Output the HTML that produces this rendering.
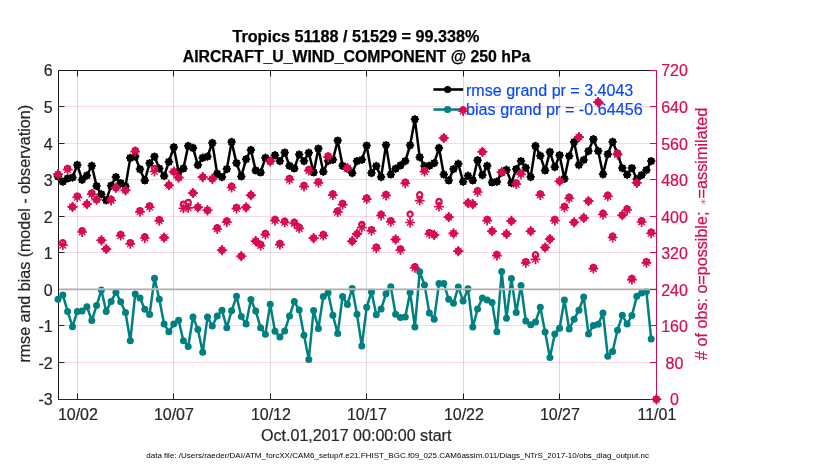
<!DOCTYPE html>
<html lang="en"><head><meta charset="utf-8"><title>Tropics AIRCRAFT_U_WIND_COMPONENT @ 250 hPa</title>
<style>html,body{margin:0;padding:0;background:#fff}body{width:830px;height:470px;overflow:hidden}svg{display:block}</style></head>
<body>
<svg width="830" height="470" viewBox="0 0 830 470" font-family="'Liberation Sans', Arial, Helvetica, sans-serif">
<rect width="830" height="470" fill="#fff"/>
<defs>
<g id="k"><circle r="3.6"/><path d="M-4.2,0H4.2M0,-4.2V4.2M-2.95,-2.95L2.95,2.95M-2.95,2.95L2.95,-2.95" stroke="#000" stroke-width="1.5" fill="none"/></g>
<g id="s" stroke="#d70a53" fill="none"><path d="M-4.9,0H4.9M0,-4.9V4.9" stroke-width="1.7"/><path d="M-3.3,-3.3L3.3,3.3M-3.3,3.3L3.3,-3.3" stroke-width="1.25"/><path d="M-2.6,0L0,-2.6L2.6,0L0,2.6Z" fill="#d70a53" stroke="none"/></g>
<g id="d" stroke="#d70a53" fill="none"><path d="M-5.1,0H5.1M0,-5.1V5.1" stroke-width="1.6"/><path d="M-3.3,-3.3L3.3,3.3M-3.3,3.3L3.3,-3.3" stroke-width="1.0"/><path d="M-4.6,0L0,-4.6L4.6,0L0,4.6Z" fill="#d70a53" stroke="none"/><circle r="2.62" stroke-width="2.2"/></g>
<circle id="c" r="2.62" stroke="#d70a53" stroke-width="2.2" fill="none"/>
</defs>
<g stroke="#000" stroke-opacity="0.14" stroke-width="1">
<line x1="77.5" y1="70.5" x2="77.5" y2="399.5"/>
<line x1="173.5" y1="70.5" x2="173.5" y2="399.5"/>
<line x1="270.5" y1="70.5" x2="270.5" y2="399.5"/>
<line x1="366.5" y1="70.5" x2="366.5" y2="399.5"/>
<line x1="463.5" y1="70.5" x2="463.5" y2="399.5"/>
<line x1="559.5" y1="70.5" x2="559.5" y2="399.5"/>
</g>
<g stroke="#1a1a1a" stroke-width="1" fill="none">
<path d="M58.5,400.0V70.5H656.5"/>
<line x1="58.5" y1="399.5" x2="64.5" y2="399.5"/>
<line x1="58.5" y1="362.5" x2="64.5" y2="362.5"/>
<line x1="58.5" y1="325.5" x2="64.5" y2="325.5"/>
<line x1="58.5" y1="289.5" x2="64.5" y2="289.5"/>
<line x1="58.5" y1="252.5" x2="64.5" y2="252.5"/>
<line x1="58.5" y1="216.5" x2="64.5" y2="216.5"/>
<line x1="58.5" y1="179.5" x2="64.5" y2="179.5"/>
<line x1="58.5" y1="143.5" x2="64.5" y2="143.5"/>
<line x1="58.5" y1="106.5" x2="64.5" y2="106.5"/>
<line x1="58.5" y1="70.5" x2="64.5" y2="70.5"/>
<line x1="77.5" y1="70.5" x2="77.5" y2="76.5"/>
<line x1="77.5" y1="399.5" x2="77.5" y2="393.5"/>
<line x1="173.5" y1="70.5" x2="173.5" y2="76.5"/>
<line x1="173.5" y1="399.5" x2="173.5" y2="393.5"/>
<line x1="270.5" y1="70.5" x2="270.5" y2="76.5"/>
<line x1="270.5" y1="399.5" x2="270.5" y2="393.5"/>
<line x1="366.5" y1="70.5" x2="366.5" y2="76.5"/>
<line x1="366.5" y1="399.5" x2="366.5" y2="393.5"/>
<line x1="463.5" y1="70.5" x2="463.5" y2="76.5"/>
<line x1="463.5" y1="399.5" x2="463.5" y2="393.5"/>
<line x1="559.5" y1="70.5" x2="559.5" y2="76.5"/>
<line x1="559.5" y1="399.5" x2="559.5" y2="393.5"/>
</g>
<line x1="58.0" y1="399.5" x2="656.5" y2="399.5" stroke="#471728" stroke-width="1"/>
<polyline points="58.0,299.2 62.8,294.9 67.6,311.4 72.5,326.7 77.3,311.4 82.1,311.1 86.9,306.7 91.8,320.5 96.6,305.6 101.4,290.1 106.2,311.4 111.1,301.4 115.9,292.3 120.7,301.7 125.5,312.5 130.3,340.8 135.2,294.1 140.0,298.1 144.8,309.3 149.6,314.4 154.5,278.2 159.3,299.2 164.1,324.1 168.9,331.7 173.8,324.1 178.6,320.2 183.4,340.7 188.2,346.5 193.0,317.1 197.9,329.4 202.7,352.3 207.5,317.1 212.3,326.0 217.2,316.1 222.0,310.3 226.8,327.7 231.6,310.8 236.5,296.3 241.3,316.6 246.1,324.1 250.9,299.5 255.7,311.1 260.6,327.7 265.4,334.2 270.2,304.3 275.0,331.3 279.9,337.1 284.7,331.0 289.5,316.1 294.3,301.4 299.2,310.1 304.0,335.3 308.8,359.5 313.6,310.4 318.4,328.5 323.3,296.4 328.1,292.7 332.9,315.2 337.7,333.6 342.6,296.4 347.4,304.6 352.2,288.4 357.0,314.3 361.8,346.0 366.7,307.2 371.5,292.0 376.3,314.7 381.1,309.0 386.0,293.8 390.8,286.8 395.6,314.3 400.4,317.5 405.3,317.0 410.1,292.4 414.9,327.1 419.7,271.8 424.5,284.9 429.4,313.0 434.2,319.2 439.0,283.4 443.8,283.4 448.7,299.3 453.5,303.3 458.3,286.9 463.1,301.1 468.0,288.8 472.8,327.1 477.6,309.0 482.4,297.9 487.2,299.9 492.1,302.5 496.9,331.7 501.7,271.6 506.5,318.2 511.4,278.4 516.2,312.5 521.0,285.4 525.8,321.0 530.7,324.7 535.5,322.1 540.3,307.3 545.1,332.0 549.9,357.5 554.8,333.9 559.6,328.3 564.4,300.1 569.2,329.0 574.1,319.2 578.9,310.2 583.7,297.0 588.5,333.9 593.4,325.4 598.2,324.3 603.0,313.1 607.8,356.3 612.6,351.5 617.5,330.2 622.3,315.3 627.1,324.0 631.9,315.6 636.8,296.2 641.6,292.9 646.4,291.4 651.2,339.1" fill="none" stroke="#008080" stroke-width="2.5" stroke-linejoin="round"/>
<g fill="#008080">
<circle cx="58.0" cy="299.2" r="3.5"/>
<circle cx="62.8" cy="294.9" r="3.5"/>
<circle cx="67.6" cy="311.4" r="3.5"/>
<circle cx="72.5" cy="326.7" r="3.5"/>
<circle cx="77.3" cy="311.4" r="3.5"/>
<circle cx="82.1" cy="311.1" r="3.5"/>
<circle cx="86.9" cy="306.7" r="3.5"/>
<circle cx="91.8" cy="320.5" r="3.5"/>
<circle cx="96.6" cy="305.6" r="3.5"/>
<circle cx="101.4" cy="290.1" r="3.5"/>
<circle cx="106.2" cy="311.4" r="3.5"/>
<circle cx="111.1" cy="301.4" r="3.5"/>
<circle cx="115.9" cy="292.3" r="3.5"/>
<circle cx="120.7" cy="301.7" r="3.5"/>
<circle cx="125.5" cy="312.5" r="3.5"/>
<circle cx="130.3" cy="340.8" r="3.5"/>
<circle cx="135.2" cy="294.1" r="3.5"/>
<circle cx="140.0" cy="298.1" r="3.5"/>
<circle cx="144.8" cy="309.3" r="3.5"/>
<circle cx="149.6" cy="314.4" r="3.5"/>
<circle cx="154.5" cy="278.2" r="3.5"/>
<circle cx="159.3" cy="299.2" r="3.5"/>
<circle cx="164.1" cy="324.1" r="3.5"/>
<circle cx="168.9" cy="331.7" r="3.5"/>
<circle cx="173.8" cy="324.1" r="3.5"/>
<circle cx="178.6" cy="320.2" r="3.5"/>
<circle cx="183.4" cy="340.7" r="3.5"/>
<circle cx="188.2" cy="346.5" r="3.5"/>
<circle cx="193.0" cy="317.1" r="3.5"/>
<circle cx="197.9" cy="329.4" r="3.5"/>
<circle cx="202.7" cy="352.3" r="3.5"/>
<circle cx="207.5" cy="317.1" r="3.5"/>
<circle cx="212.3" cy="326.0" r="3.5"/>
<circle cx="217.2" cy="316.1" r="3.5"/>
<circle cx="222.0" cy="310.3" r="3.5"/>
<circle cx="226.8" cy="327.7" r="3.5"/>
<circle cx="231.6" cy="310.8" r="3.5"/>
<circle cx="236.5" cy="296.3" r="3.5"/>
<circle cx="241.3" cy="316.6" r="3.5"/>
<circle cx="246.1" cy="324.1" r="3.5"/>
<circle cx="250.9" cy="299.5" r="3.5"/>
<circle cx="255.7" cy="311.1" r="3.5"/>
<circle cx="260.6" cy="327.7" r="3.5"/>
<circle cx="265.4" cy="334.2" r="3.5"/>
<circle cx="270.2" cy="304.3" r="3.5"/>
<circle cx="275.0" cy="331.3" r="3.5"/>
<circle cx="279.9" cy="337.1" r="3.5"/>
<circle cx="284.7" cy="331.0" r="3.5"/>
<circle cx="289.5" cy="316.1" r="3.5"/>
<circle cx="294.3" cy="301.4" r="3.5"/>
<circle cx="299.2" cy="310.1" r="3.5"/>
<circle cx="304.0" cy="335.3" r="3.5"/>
<circle cx="308.8" cy="359.5" r="3.5"/>
<circle cx="313.6" cy="310.4" r="3.5"/>
<circle cx="318.4" cy="328.5" r="3.5"/>
<circle cx="323.3" cy="296.4" r="3.5"/>
<circle cx="328.1" cy="292.7" r="3.5"/>
<circle cx="332.9" cy="315.2" r="3.5"/>
<circle cx="337.7" cy="333.6" r="3.5"/>
<circle cx="342.6" cy="296.4" r="3.5"/>
<circle cx="347.4" cy="304.6" r="3.5"/>
<circle cx="352.2" cy="288.4" r="3.5"/>
<circle cx="357.0" cy="314.3" r="3.5"/>
<circle cx="361.8" cy="346.0" r="3.5"/>
<circle cx="366.7" cy="307.2" r="3.5"/>
<circle cx="371.5" cy="292.0" r="3.5"/>
<circle cx="376.3" cy="314.7" r="3.5"/>
<circle cx="381.1" cy="309.0" r="3.5"/>
<circle cx="386.0" cy="293.8" r="3.5"/>
<circle cx="390.8" cy="286.8" r="3.5"/>
<circle cx="395.6" cy="314.3" r="3.5"/>
<circle cx="400.4" cy="317.5" r="3.5"/>
<circle cx="405.3" cy="317.0" r="3.5"/>
<circle cx="410.1" cy="292.4" r="3.5"/>
<circle cx="414.9" cy="327.1" r="3.5"/>
<circle cx="419.7" cy="271.8" r="3.5"/>
<circle cx="424.5" cy="284.9" r="3.5"/>
<circle cx="429.4" cy="313.0" r="3.5"/>
<circle cx="434.2" cy="319.2" r="3.5"/>
<circle cx="439.0" cy="283.4" r="3.5"/>
<circle cx="443.8" cy="283.4" r="3.5"/>
<circle cx="448.7" cy="299.3" r="3.5"/>
<circle cx="453.5" cy="303.3" r="3.5"/>
<circle cx="458.3" cy="286.9" r="3.5"/>
<circle cx="463.1" cy="301.1" r="3.5"/>
<circle cx="468.0" cy="288.8" r="3.5"/>
<circle cx="472.8" cy="327.1" r="3.5"/>
<circle cx="477.6" cy="309.0" r="3.5"/>
<circle cx="482.4" cy="297.9" r="3.5"/>
<circle cx="487.2" cy="299.9" r="3.5"/>
<circle cx="492.1" cy="302.5" r="3.5"/>
<circle cx="496.9" cy="331.7" r="3.5"/>
<circle cx="501.7" cy="271.6" r="3.5"/>
<circle cx="506.5" cy="318.2" r="3.5"/>
<circle cx="511.4" cy="278.4" r="3.5"/>
<circle cx="516.2" cy="312.5" r="3.5"/>
<circle cx="521.0" cy="285.4" r="3.5"/>
<circle cx="525.8" cy="321.0" r="3.5"/>
<circle cx="530.7" cy="324.7" r="3.5"/>
<circle cx="535.5" cy="322.1" r="3.5"/>
<circle cx="540.3" cy="307.3" r="3.5"/>
<circle cx="545.1" cy="332.0" r="3.5"/>
<circle cx="549.9" cy="357.5" r="3.5"/>
<circle cx="554.8" cy="333.9" r="3.5"/>
<circle cx="559.6" cy="328.3" r="3.5"/>
<circle cx="564.4" cy="300.1" r="3.5"/>
<circle cx="569.2" cy="329.0" r="3.5"/>
<circle cx="574.1" cy="319.2" r="3.5"/>
<circle cx="578.9" cy="310.2" r="3.5"/>
<circle cx="583.7" cy="297.0" r="3.5"/>
<circle cx="588.5" cy="333.9" r="3.5"/>
<circle cx="593.4" cy="325.4" r="3.5"/>
<circle cx="598.2" cy="324.3" r="3.5"/>
<circle cx="603.0" cy="313.1" r="3.5"/>
<circle cx="607.8" cy="356.3" r="3.5"/>
<circle cx="612.6" cy="351.5" r="3.5"/>
<circle cx="617.5" cy="330.2" r="3.5"/>
<circle cx="622.3" cy="315.3" r="3.5"/>
<circle cx="627.1" cy="324.0" r="3.5"/>
<circle cx="631.9" cy="315.6" r="3.5"/>
<circle cx="636.8" cy="296.2" r="3.5"/>
<circle cx="641.6" cy="292.9" r="3.5"/>
<circle cx="646.4" cy="291.4" r="3.5"/>
<circle cx="651.2" cy="339.1" r="3.5"/>
</g>
<line x1="59.0" y1="289.2" x2="656.5" y2="289.2" stroke="#c8c8c8" stroke-width="2"/>
<polyline points="58.0,176.4 62.8,181.7 67.6,178.4 72.5,177.5 77.3,164.9 82.1,179.8 86.9,175.5 91.8,165.8 96.6,186.1 101.4,194.3 106.2,200.3 111.1,185.7 115.9,177.1 120.7,183.1 125.5,186.4 130.3,157.9 135.2,156.6 140.0,169.2 144.8,180.4 149.6,163.2 154.5,156.6 159.3,168.5 164.1,176.0 168.9,161.8 173.8,147.2 178.6,171.7 183.4,168.4 188.2,145.9 193.0,147.9 197.9,165.1 202.7,157.8 207.5,156.5 212.3,142.9 217.2,173.7 222.0,177.1 226.8,169.1 231.6,141.9 236.5,163.1 241.3,176.4 246.1,159.2 250.9,149.9 255.7,170.4 260.6,172.4 265.4,157.8 270.2,161.1 275.0,155.2 279.9,161.1 284.7,152.5 289.5,165.8 294.3,168.4 299.2,154.5 304.0,161.1 308.8,152.8 313.6,172.4 318.4,148.6 323.3,171.7 328.1,161.0 332.9,159.8 337.7,140.6 342.6,165.8 347.4,168.4 352.2,173.1 357.0,161.1 361.8,159.8 366.7,145.6 371.5,173.1 376.3,166.0 381.1,177.1 386.0,145.1 390.8,174.4 395.6,168.7 400.4,165.4 405.3,161.1 410.1,145.3 414.9,119.3 419.7,157.2 424.5,166.0 429.4,165.7 434.2,163.1 439.0,147.9 443.8,174.5 448.7,180.4 453.5,169.1 458.3,163.8 463.1,181.7 468.0,175.8 472.8,180.4 477.6,160.2 482.4,175.1 487.2,165.8 492.1,182.4 496.9,181.7 501.7,172.4 506.5,169.8 511.4,183.0 516.2,169.1 521.0,161.1 525.8,167.8 530.7,177.1 535.5,145.9 540.3,155.8 545.1,170.4 549.9,151.9 554.8,167.1 559.6,155.2 564.4,178.8 569.2,156.0 574.1,142.0 578.9,165.0 583.7,160.0 588.5,151.1 593.4,139.2 598.2,151.1 603.0,174.3 607.8,154.2 612.6,141.8 617.5,153.5 622.3,168.1 627.1,174.7 631.9,168.1 636.8,179.3 641.6,175.1 646.4,170.1 651.2,161.1" fill="none" stroke="#000" stroke-width="2.5" stroke-linejoin="round"/>
<use href="#k" x="58.0" y="176.4"/>
<use href="#k" x="62.8" y="181.7"/>
<use href="#k" x="67.6" y="178.4"/>
<use href="#k" x="72.5" y="177.5"/>
<use href="#k" x="77.3" y="164.9"/>
<use href="#k" x="82.1" y="179.8"/>
<use href="#k" x="86.9" y="175.5"/>
<use href="#k" x="91.8" y="165.8"/>
<use href="#k" x="96.6" y="186.1"/>
<use href="#k" x="101.4" y="194.3"/>
<use href="#k" x="106.2" y="200.3"/>
<use href="#k" x="111.1" y="185.7"/>
<use href="#k" x="115.9" y="177.1"/>
<use href="#k" x="120.7" y="183.1"/>
<use href="#k" x="125.5" y="186.4"/>
<use href="#k" x="130.3" y="157.9"/>
<use href="#k" x="135.2" y="156.6"/>
<use href="#k" x="140.0" y="169.2"/>
<use href="#k" x="144.8" y="180.4"/>
<use href="#k" x="149.6" y="163.2"/>
<use href="#k" x="154.5" y="156.6"/>
<use href="#k" x="159.3" y="168.5"/>
<use href="#k" x="164.1" y="176.0"/>
<use href="#k" x="168.9" y="161.8"/>
<use href="#k" x="173.8" y="147.2"/>
<use href="#k" x="178.6" y="171.7"/>
<use href="#k" x="183.4" y="168.4"/>
<use href="#k" x="188.2" y="145.9"/>
<use href="#k" x="193.0" y="147.9"/>
<use href="#k" x="197.9" y="165.1"/>
<use href="#k" x="202.7" y="157.8"/>
<use href="#k" x="207.5" y="156.5"/>
<use href="#k" x="212.3" y="142.9"/>
<use href="#k" x="217.2" y="173.7"/>
<use href="#k" x="222.0" y="177.1"/>
<use href="#k" x="226.8" y="169.1"/>
<use href="#k" x="231.6" y="141.9"/>
<use href="#k" x="236.5" y="163.1"/>
<use href="#k" x="241.3" y="176.4"/>
<use href="#k" x="246.1" y="159.2"/>
<use href="#k" x="250.9" y="149.9"/>
<use href="#k" x="255.7" y="170.4"/>
<use href="#k" x="260.6" y="172.4"/>
<use href="#k" x="265.4" y="157.8"/>
<use href="#k" x="270.2" y="161.1"/>
<use href="#k" x="275.0" y="155.2"/>
<use href="#k" x="279.9" y="161.1"/>
<use href="#k" x="284.7" y="152.5"/>
<use href="#k" x="289.5" y="165.8"/>
<use href="#k" x="294.3" y="168.4"/>
<use href="#k" x="299.2" y="154.5"/>
<use href="#k" x="304.0" y="161.1"/>
<use href="#k" x="308.8" y="152.8"/>
<use href="#k" x="313.6" y="172.4"/>
<use href="#k" x="318.4" y="148.6"/>
<use href="#k" x="323.3" y="171.7"/>
<use href="#k" x="328.1" y="161.0"/>
<use href="#k" x="332.9" y="159.8"/>
<use href="#k" x="337.7" y="140.6"/>
<use href="#k" x="342.6" y="165.8"/>
<use href="#k" x="347.4" y="168.4"/>
<use href="#k" x="352.2" y="173.1"/>
<use href="#k" x="357.0" y="161.1"/>
<use href="#k" x="361.8" y="159.8"/>
<use href="#k" x="366.7" y="145.6"/>
<use href="#k" x="371.5" y="173.1"/>
<use href="#k" x="376.3" y="166.0"/>
<use href="#k" x="381.1" y="177.1"/>
<use href="#k" x="386.0" y="145.1"/>
<use href="#k" x="390.8" y="174.4"/>
<use href="#k" x="395.6" y="168.7"/>
<use href="#k" x="400.4" y="165.4"/>
<use href="#k" x="405.3" y="161.1"/>
<use href="#k" x="410.1" y="145.3"/>
<use href="#k" x="414.9" y="119.3"/>
<use href="#k" x="419.7" y="157.2"/>
<use href="#k" x="424.5" y="166.0"/>
<use href="#k" x="429.4" y="165.7"/>
<use href="#k" x="434.2" y="163.1"/>
<use href="#k" x="439.0" y="147.9"/>
<use href="#k" x="443.8" y="174.5"/>
<use href="#k" x="448.7" y="180.4"/>
<use href="#k" x="453.5" y="169.1"/>
<use href="#k" x="458.3" y="163.8"/>
<use href="#k" x="463.1" y="181.7"/>
<use href="#k" x="468.0" y="175.8"/>
<use href="#k" x="472.8" y="180.4"/>
<use href="#k" x="477.6" y="160.2"/>
<use href="#k" x="482.4" y="175.1"/>
<use href="#k" x="487.2" y="165.8"/>
<use href="#k" x="492.1" y="182.4"/>
<use href="#k" x="496.9" y="181.7"/>
<use href="#k" x="501.7" y="172.4"/>
<use href="#k" x="506.5" y="169.8"/>
<use href="#k" x="511.4" y="183.0"/>
<use href="#k" x="516.2" y="169.1"/>
<use href="#k" x="521.0" y="161.1"/>
<use href="#k" x="525.8" y="167.8"/>
<use href="#k" x="530.7" y="177.1"/>
<use href="#k" x="535.5" y="145.9"/>
<use href="#k" x="540.3" y="155.8"/>
<use href="#k" x="545.1" y="170.4"/>
<use href="#k" x="549.9" y="151.9"/>
<use href="#k" x="554.8" y="167.1"/>
<use href="#k" x="559.6" y="155.2"/>
<use href="#k" x="564.4" y="178.8"/>
<use href="#k" x="569.2" y="156.0"/>
<use href="#k" x="574.1" y="142.0"/>
<use href="#k" x="578.9" y="165.0"/>
<use href="#k" x="583.7" y="160.0"/>
<use href="#k" x="588.5" y="151.1"/>
<use href="#k" x="593.4" y="139.2"/>
<use href="#k" x="598.2" y="151.1"/>
<use href="#k" x="603.0" y="174.3"/>
<use href="#k" x="607.8" y="154.2"/>
<use href="#k" x="612.6" y="141.8"/>
<use href="#k" x="617.5" y="153.5"/>
<use href="#k" x="622.3" y="168.1"/>
<use href="#k" x="627.1" y="174.7"/>
<use href="#k" x="631.9" y="168.1"/>
<use href="#k" x="636.8" y="179.3"/>
<use href="#k" x="641.6" y="175.1"/>
<use href="#k" x="646.4" y="170.1"/>
<use href="#k" x="651.2" y="161.1"/>
<g stroke="#d70a53" stroke-opacity="0.16" stroke-width="1">
<line x1="59.0" y1="362.5" x2="656.5" y2="362.5"/>
<line x1="59.0" y1="325.5" x2="656.5" y2="325.5"/>
<line x1="59.0" y1="289.5" x2="656.5" y2="289.5"/>
<line x1="59.0" y1="252.5" x2="656.5" y2="252.5"/>
<line x1="59.0" y1="216.5" x2="656.5" y2="216.5"/>
<line x1="59.0" y1="179.5" x2="656.5" y2="179.5"/>
<line x1="59.0" y1="143.5" x2="656.5" y2="143.5"/>
<line x1="59.0" y1="106.5" x2="656.5" y2="106.5"/>
<line x1="59.0" y1="289.7" x2="656.5" y2="289.7" stroke-opacity="0.1"/>
</g>
<g stroke="#d70a53" stroke-width="1">
<line x1="656.5" y1="70.0" x2="656.5" y2="400.0"/>
<line x1="656.5" y1="399.5" x2="650.0" y2="399.5"/>
<line x1="656.5" y1="362.5" x2="650.0" y2="362.5"/>
<line x1="656.5" y1="325.5" x2="650.0" y2="325.5"/>
<line x1="656.5" y1="289.5" x2="650.0" y2="289.5"/>
<line x1="656.5" y1="252.5" x2="650.0" y2="252.5"/>
<line x1="656.5" y1="216.5" x2="650.0" y2="216.5"/>
<line x1="656.5" y1="179.5" x2="650.0" y2="179.5"/>
<line x1="656.5" y1="143.5" x2="650.0" y2="143.5"/>
<line x1="656.5" y1="106.5" x2="650.0" y2="106.5"/>
<line x1="656.5" y1="70.5" x2="650.0" y2="70.5"/>
</g>
<line x1="433.4" y1="89.5" x2="463.2" y2="89.5" stroke="#000" stroke-width="2.6"/><circle cx="447.6" cy="89.5" r="3.6"/>
<line x1="433.4" y1="109.5" x2="463.2" y2="109.5" stroke="#008080" stroke-width="2.6"/><circle cx="447.6" cy="109.5" r="3.6" fill="#008080"/>
<g font-size="16" fill="#0546ff" stroke="#0546ff" stroke-width="0.15">
<text x="466" y="96.2" textLength="167.3" lengthAdjust="spacingAndGlyphs">rmse grand pr = 3.4043</text>
<text x="466" y="114.9" textLength="176.7" lengthAdjust="spacingAndGlyphs">bias grand pr = -0.64456</text>
</g>
<use href="#d" x="58.0" y="174.4"/>
<use href="#c" x="62.8" y="242.6"/><use href="#s" x="62.8" y="245.2"/>
<use href="#c" x="67.6" y="168.5"/><use href="#s" x="67.6" y="169.7"/>
<use href="#d" x="72.5" y="206.9"/>
<use href="#c" x="77.3" y="196.1"/><use href="#s" x="77.3" y="197.3"/>
<use href="#c" x="82.1" y="230.8"/><use href="#s" x="82.1" y="232.0"/>
<use href="#d" x="86.9" y="204.2"/>
<use href="#c" x="91.8" y="193.0"/><use href="#s" x="91.8" y="194.2"/>
<use href="#d" x="96.6" y="199.7"/>
<use href="#d" x="101.4" y="240.3"/>
<use href="#d" x="106.2" y="249.0"/>
<use href="#c" x="111.1" y="199.3"/><use href="#s" x="111.1" y="200.5"/>
<use href="#d" x="115.9" y="187.9"/>
<use href="#c" x="120.7" y="234.5"/><use href="#s" x="120.7" y="235.7"/>
<use href="#d" x="125.5" y="190.3"/>
<use href="#c" x="130.3" y="242.6"/><use href="#s" x="130.3" y="243.8"/>
<use href="#c" x="135.2" y="150.5"/><use href="#s" x="135.2" y="151.7"/>
<use href="#c" x="140.0" y="210.6"/><use href="#s" x="140.0" y="211.8"/>
<use href="#c" x="144.8" y="236.8"/><use href="#s" x="144.8" y="238.0"/>
<use href="#c" x="149.6" y="205.9"/><use href="#s" x="149.6" y="207.1"/>
<use href="#c" x="154.5" y="168.5"/><use href="#s" x="154.5" y="171.5"/>
<use href="#c" x="159.3" y="219.6"/><use href="#s" x="159.3" y="220.8"/>
<use href="#d" x="164.1" y="237.6"/>
<use href="#d" x="168.9" y="185.2"/>
<use href="#d" x="173.8" y="171.7"/>
<use href="#d" x="178.6" y="177.6"/>
<use href="#c" x="183.4" y="204.2"/><use href="#s" x="183.4" y="208.4"/>
<use href="#c" x="188.2" y="202.4"/><use href="#s" x="188.2" y="207.8"/>
<use href="#d" x="193.0" y="193.0"/>
<use href="#d" x="197.9" y="207.3"/>
<use href="#d" x="202.7" y="177.1"/>
<use href="#d" x="207.5" y="210.3"/>
<use href="#d" x="212.3" y="178.9"/>
<use href="#c" x="217.2" y="227.8"/><use href="#s" x="217.2" y="229.0"/>
<use href="#d" x="222.0" y="250.2"/>
<use href="#c" x="226.8" y="220.9"/><use href="#s" x="226.8" y="222.1"/>
<use href="#c" x="231.6" y="186.3"/><use href="#s" x="231.6" y="187.5"/>
<use href="#c" x="236.5" y="207.4"/><use href="#s" x="236.5" y="208.6"/>
<use href="#d" x="241.3" y="256.2"/>
<use href="#d" x="246.1" y="207.3"/>
<use href="#d" x="250.9" y="195.2"/>
<use href="#d" x="255.7" y="241.2"/>
<use href="#c" x="260.6" y="244.4"/><use href="#s" x="260.6" y="245.6"/>
<use href="#c" x="265.4" y="233.5"/><use href="#s" x="265.4" y="234.7"/>
<use href="#d" x="270.2" y="161.3"/>
<use href="#c" x="275.0" y="219.4"/><use href="#s" x="275.0" y="220.6"/>
<use href="#c" x="279.9" y="243.5"/><use href="#s" x="279.9" y="244.7"/>
<use href="#c" x="284.7" y="221.2"/><use href="#s" x="284.7" y="222.4"/>
<use href="#c" x="289.5" y="178.5"/><use href="#s" x="289.5" y="179.7"/>
<use href="#c" x="294.3" y="222.3"/><use href="#s" x="294.3" y="223.5"/>
<use href="#c" x="299.2" y="227.2"/><use href="#s" x="299.2" y="228.4"/>
<use href="#c" x="304.0" y="185.4"/><use href="#s" x="304.0" y="186.6"/>
<use href="#c" x="308.8" y="169.5"/><use href="#s" x="308.8" y="170.7"/>
<use href="#d" x="313.6" y="238.1"/>
<use href="#c" x="318.4" y="181.6"/><use href="#s" x="318.4" y="182.8"/>
<use href="#c" x="323.3" y="234.5"/><use href="#s" x="323.3" y="235.7"/>
<use href="#c" x="328.1" y="155.9"/><use href="#s" x="328.1" y="157.1"/>
<use href="#c" x="332.9" y="193.9"/><use href="#s" x="332.9" y="195.1"/>
<use href="#c" x="337.7" y="211.0"/><use href="#s" x="337.7" y="212.2"/>
<use href="#c" x="342.6" y="203.5"/><use href="#s" x="342.6" y="204.7"/>
<use href="#d" x="347.4" y="168.0"/>
<use href="#d" x="352.2" y="241.2"/>
<use href="#d" x="357.0" y="233.9"/>
<use href="#c" x="361.8" y="224.5"/><use href="#s" x="361.8" y="227.6"/>
<use href="#c" x="366.7" y="198.0"/><use href="#s" x="366.7" y="199.2"/>
<use href="#c" x="371.5" y="229.6"/><use href="#s" x="371.5" y="230.8"/>
<use href="#c" x="376.3" y="247.1"/><use href="#s" x="376.3" y="248.3"/>
<use href="#c" x="381.1" y="214.3"/><use href="#s" x="381.1" y="215.5"/>
<use href="#c" x="386.0" y="194.4"/><use href="#s" x="386.0" y="195.6"/>
<use href="#c" x="390.8" y="220.6"/><use href="#s" x="390.8" y="221.8"/>
<use href="#d" x="395.6" y="239.4"/>
<use href="#c" x="400.4" y="248.9"/><use href="#s" x="400.4" y="250.1"/>
<use href="#c" x="405.3" y="182.1"/><use href="#s" x="405.3" y="183.3"/>
<use href="#c" x="410.1" y="214.2"/><use href="#s" x="410.1" y="222.5"/>
<use href="#c" x="414.9" y="266.7"/><use href="#s" x="414.9" y="267.9"/>
<use href="#c" x="419.7" y="194.8"/><use href="#s" x="419.7" y="200.6"/>
<use href="#c" x="424.5" y="170.4"/><use href="#s" x="424.5" y="171.6"/>
<use href="#c" x="429.4" y="232.6"/><use href="#s" x="429.4" y="233.8"/>
<use href="#d" x="434.2" y="234.9"/>
<use href="#c" x="439.0" y="201.5"/><use href="#s" x="439.0" y="206.7"/>
<use href="#d" x="443.8" y="138.0"/>
<use href="#d" x="448.7" y="217.1"/>
<use href="#d" x="453.5" y="233.4"/>
<use href="#d" x="458.3" y="251.1"/>
<use href="#c" x="463.1" y="109.9"/><use href="#s" x="463.1" y="111.1"/>
<use href="#d" x="468.0" y="203.0"/>
<use href="#d" x="472.8" y="204.2"/>
<use href="#c" x="477.6" y="190.8"/><use href="#s" x="477.6" y="192.0"/>
<use href="#d" x="482.4" y="151.8"/>
<use href="#c" x="487.2" y="219.4"/><use href="#s" x="487.2" y="220.6"/>
<use href="#d" x="492.1" y="231.2"/>
<use href="#c" x="496.9" y="254.4"/><use href="#s" x="496.9" y="255.6"/>
<use href="#d" x="501.7" y="172.2"/>
<use href="#d" x="506.5" y="233.9"/>
<use href="#d" x="511.4" y="220.9"/>
<use href="#c" x="516.2" y="183.0"/><use href="#s" x="516.2" y="184.2"/>
<use href="#c" x="521.0" y="173.1"/><use href="#s" x="521.0" y="174.3"/>
<use href="#c" x="525.8" y="261.6"/><use href="#s" x="525.8" y="262.8"/>
<use href="#d" x="530.7" y="231.2"/>
<use href="#c" x="535.5" y="254.8"/><use href="#s" x="535.5" y="259.3"/>
<use href="#c" x="540.3" y="193.9"/><use href="#s" x="540.3" y="195.1"/>
<use href="#d" x="545.1" y="247.5"/>
<use href="#d" x="549.9" y="239.0"/>
<use href="#c" x="554.8" y="219.4"/><use href="#s" x="554.8" y="220.6"/>
<use href="#d" x="559.6" y="181.2"/>
<use href="#c" x="564.4" y="206.4"/><use href="#s" x="564.4" y="207.6"/>
<use href="#c" x="569.2" y="197.2"/><use href="#s" x="569.2" y="198.4"/>
<use href="#d" x="574.1" y="222.3"/>
<use href="#d" x="578.9" y="137.1"/>
<use href="#d" x="583.7" y="217.9"/>
<use href="#d" x="588.5" y="201.1"/>
<use href="#c" x="593.4" y="267.5"/><use href="#s" x="593.4" y="268.7"/>
<use href="#d" x="598.2" y="102.1"/>
<use href="#c" x="603.0" y="213.3"/><use href="#s" x="603.0" y="214.5"/>
<use href="#c" x="607.8" y="195.2"/><use href="#s" x="607.8" y="196.4"/>
<use href="#c" x="612.6" y="236.3"/><use href="#s" x="612.6" y="237.5"/>
<use href="#c" x="617.5" y="153.4"/><use href="#s" x="617.5" y="154.6"/>
<use href="#d" x="622.3" y="215.2"/>
<use href="#c" x="627.1" y="208.8"/><use href="#s" x="627.1" y="210.0"/>
<use href="#c" x="631.9" y="278.5"/><use href="#s" x="631.9" y="279.7"/>
<use href="#d" x="636.8" y="182.8"/>
<use href="#c" x="641.6" y="220.8"/><use href="#s" x="641.6" y="222.0"/>
<use href="#c" x="646.4" y="261.6"/><use href="#s" x="646.4" y="262.8"/>
<use href="#c" x="651.2" y="232.1"/><use href="#s" x="651.2" y="233.3"/>
<use href="#d" x="656.4" y="399.3"/>
<g font-size="16" fill="#262626" stroke="#262626" stroke-width="0.2" text-anchor="end">
<text x="52.7" y="404.9">-3</text>
<text x="52.7" y="368.9">-2</text>
<text x="52.7" y="331.9">-1</text>
<text x="52.7" y="295.9">0</text>
<text x="52.7" y="258.9">1</text>
<text x="52.7" y="222.9">2</text>
<text x="52.7" y="185.9">3</text>
<text x="52.7" y="149.9">4</text>
<text x="52.7" y="112.9">5</text>
<text x="52.7" y="75.9">6</text>
</g>
<g font-size="16" fill="#262626" stroke="#262626" stroke-width="0.2" text-anchor="middle">
<text x="77.9" y="420">10/02</text>
<text x="173.9" y="420">10/07</text>
<text x="270.9" y="420">10/12</text>
<text x="366.9" y="420">10/17</text>
<text x="463.9" y="420">10/22</text>
<text x="559.9" y="420">10/27</text>
<text x="656.9" y="420">11/01</text>
</g>
<g font-size="16" fill="#d70a53" stroke="#d70a53" stroke-width="0.2" text-anchor="middle">
<text x="674.5" y="405.1">0</text>
<text x="674.5" y="368.9">80</text>
<text x="674.5" y="331.9">160</text>
<text x="674.5" y="295.9">240</text>
<text x="674.5" y="258.9">320</text>
<text x="674.5" y="222.9">400</text>
<text x="674.5" y="185.9">480</text>
<text x="674.5" y="149.9">560</text>
<text x="674.5" y="112.9">640</text>
<text x="674.5" y="75.9">720</text>
</g>
<g font-size="16" font-weight="bold" fill="#000" stroke="#000" stroke-width="0.25" text-anchor="middle">
<text x="355.9" y="42.2" textLength="246.9" lengthAdjust="spacingAndGlyphs">Tropics 51188 / 51529 = 99.338%</text>
<text x="356.5" y="62.3" textLength="347.5" lengthAdjust="spacingAndGlyphs">AIRCRAFT_U_WIND_COMPONENT @ 250 hPa</text>
</g>
<text x="356.2" y="440.5" font-size="16" fill="#262626" stroke="#262626" stroke-width="0.2" text-anchor="middle" textLength="190.4" lengthAdjust="spacingAndGlyphs">Oct.01,2017 00:00:00 start</text>
<text x="146.3" y="457.5" font-size="8" fill="#000" textLength="502.6" lengthAdjust="spacingAndGlyphs">data file: /Users/raeder/DAI/ATM_forcXX/CAM6_setup/f.e21.FHIST_BGC.f09_025.CAM6assim.011/Diags_NTrS_2017-10/obs_diag_output.nc</text>
<text transform="translate(30.2,362.6) rotate(-90)" font-size="16" fill="#262626" stroke="#262626" stroke-width="0.2" textLength="154.3" lengthAdjust="spacingAndGlyphs">rmse and bias (model</text>
<text transform="translate(30.2,203.8) rotate(-90)" font-size="16" fill="#262626" stroke="#262626" stroke-width="0.2" textLength="99" lengthAdjust="spacingAndGlyphs">- observation)</text>
<g font-size="16" fill="#d70a53" stroke="#d70a53" stroke-width="0.2">
<text transform="translate(707.4,359.9) rotate(-90)" textLength="148.3" lengthAdjust="spacingAndGlyphs"># of obs: o=possible;</text>
<text transform="translate(706.2,201.7) rotate(-90)" font-size="8.5" text-anchor="middle" fill-opacity="0.6" stroke="none" font-family="'DejaVu Sans', 'Liberation Sans', sans-serif">∗</text>
<text transform="translate(707.4,198.4) rotate(-90)" textLength="90.7" lengthAdjust="spacingAndGlyphs">=assimilated</text>
</g>
</svg>
</body></html>
